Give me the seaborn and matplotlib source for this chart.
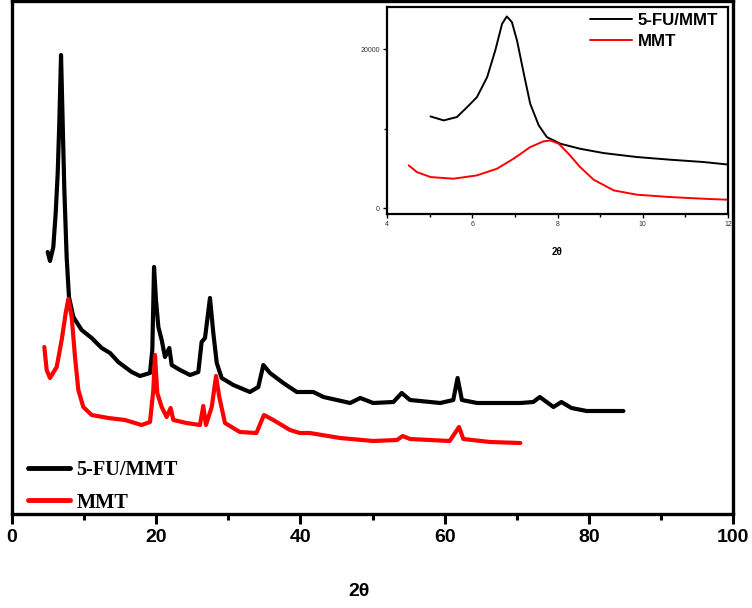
import numpy as np
import pandas as pd
import seaborn as sns
import matplotlib
matplotlib.use("Agg")
import matplotlib.pyplot as plt
from matplotlib.lines import Line2D
from matplotlib.ticker import MultipleLocator, FixedLocator

# ---------------- data ----------------
fu_2theta = [4.95, 5.27, 5.73, 6.06, 6.34, 6.56, 6.80, 7.03, 7.26, 7.58, 7.9, 8.51, 9.66, 11.05,
             12.44, 13.6, 14.74, 16.6, 17.75, 19.14, 19.46, 19.7, 19.97, 20.3, 20.76, 21.22,
             21.82, 22.15, 23.3, 24.7, 25.84, 26.3, 26.77, 27.46, 27.92, 28.4, 29.08, 30.7,
             33.0, 34.16, 34.86, 35.78, 37.63, 39.5, 41.8, 43.2, 46.9, 48.3, 50.1, 52.9, 54.05,
             55.2, 59.4, 61.2, 61.8, 62.4, 64.5, 68.1, 70.5, 72.3, 73.2, 75.1, 76.2, 77.6,
             79.7, 84.8]
fu_int = [262, 253, 267, 301, 341, 391, 459, 391, 324, 257, 217, 197, 184, 176,
          166, 161, 152, 142, 138, 141, 164, 247, 214, 187, 174, 157,
          166, 149, 144, 139, 142, 172, 176, 216, 181, 151, 136, 129,
          122, 127, 149, 141, 131, 122, 122, 117, 111, 116, 111, 112, 121,
          114, 111, 114, 136, 114, 111, 111, 111, 112, 117, 107, 112, 106,
          103, 103]

mmt_2theta = [4.48, 4.81, 5.27, 6.2, 6.89, 7.45, 7.81, 8.28, 8.74, 9.2, 9.89, 11.05, 13.36,
              15.67, 17.98, 19.14, 19.6, 19.83, 20.15, 20.76, 21.45, 22.0, 22.38, 24.2, 26.07,
              26.53, 26.9, 27.7, 28.3, 28.75, 29.54, 31.6, 33.9, 34.95, 36.24, 38.56, 39.9,
              41.3, 45.5, 50.1, 53.4, 54.2, 55.2, 60.7, 62.0, 62.6, 66.3, 70.5]
mmt_int = [167, 144, 136, 147, 174, 201, 215, 197, 157, 124, 107, 99, 96,
           94, 89, 92, 124, 159, 121, 107, 97, 106, 94, 91, 89,
           108, 89, 107, 138, 117, 91, 82, 81, 99, 94, 84, 81,
           81, 76, 73, 74, 78, 75, 73, 87, 75, 72, 71]

# inset (zoom 4-12 deg)
ins_fu_2theta = [5.02, 5.33, 5.64, 5.88, 6.11, 6.35, 6.54, 6.70, 6.81, 6.93, 7.05, 7.21, 7.36,
                 7.56, 7.75, 8.07, 8.53, 9.08, 9.86, 10.65, 11.43, 11.97]
ins_fu_int = [11530, 11030, 11450, 12700, 13960, 16480, 19830, 23190, 24110, 23400, 21090,
              16900, 13120, 10400, 8930, 8090, 7460, 6920, 6420, 6080, 5790, 5490]
ins_mmt_2theta = [4.51, 4.70, 5.02, 5.56, 6.11, 6.58, 6.97, 7.36, 7.67, 7.83, 8.03, 8.26, 8.53,
                  8.85, 9.32, 9.86, 10.65, 11.43, 11.97]
ins_mmt_int = [5370, 4530, 3900, 3690, 4110, 4950, 6210, 7670, 8390, 8510, 8090, 6830, 5160,
               3560, 2220, 1680, 1380, 1170, 1050]

labels = ["5-FU/MMT", "MMT"]
colors = ["black", "red"]
main_xticks = [0, 20, 40, 60, 80, 100]
inset_xticks = [4, 6, 8, 10, 12]
inset_yticks = [0, 20000]

# ---------------- figure ----------------
sns.set_theme(style="white")
plt.rcParams["font.family"] = ["Liberation Sans", "DejaVu Sans"]
plt.rcParams["text.color"] = "black"
plt.rcParams["axes.labelcolor"] = "black"
plt.rcParams["xtick.color"] = "black"
plt.rcParams["ytick.color"] = "black"

fig = plt.figure(figsize=(7.52, 6.08), dpi=100)
ax = fig.add_axes([12 / 752, (608 - 514) / 608, 721 / 752, 513 / 608])

df_fu = pd.DataFrame({"x": fu_2theta, "y": fu_int})
df_mmt = pd.DataFrame({"x": mmt_2theta, "y": mmt_int})
sns.lineplot(data=df_fu, x="x", y="y", color=colors[0], lw=3.0, ax=ax)
sns.lineplot(data=df_mmt, x="x", y="y", color=colors[1], lw=3.0, ax=ax)

ax.set_xlim(0, 100)
ax.set_ylim(0, 513)
ax.set_yticks([])
ax.set_xticks(main_xticks)
ax.xaxis.set_minor_locator(MultipleLocator(10))
ax.tick_params(axis="x", which="major", direction="out", length=7, width=2.2,
               labelsize=14, pad=4, bottom=True, labelcolor="black")
ax.tick_params(axis="x", which="minor", direction="out", length=4, width=2.2, bottom=True)
for lab in ax.get_xticklabels():
    lab.set_fontweight("bold")
for s in ax.spines.values():
    s.set_linewidth(2.4)
    s.set_color("black")
ax.set_xlabel("2θ", fontsize=14, fontweight="bold", color="black")
ax.xaxis.set_label_coords(0.482, -0.135)
ax.set_ylabel("")

handles = [Line2D([], [], color=c, lw=3.5) for c in colors]
ax.legend(handles, labels, loc="lower left", bbox_to_anchor=(0.0, -0.029), frameon=False,
          prop={"family": "Liberation Serif", "weight": "bold", "size": 14.7},
          handlelength=2.05, handletextpad=0.3, labelspacing=0.6, borderaxespad=0.4)

# ---------------- inset ----------------
ins = fig.add_axes([387 / 752, (608 - 214) / 608, (728 - 387) / 752, (214 - 7) / 608])
df_ifu = pd.DataFrame({"x": ins_fu_2theta, "y": ins_fu_int})
df_immt = pd.DataFrame({"x": ins_mmt_2theta, "y": ins_mmt_int})
sns.lineplot(data=df_ifu, x="x", y="y", color=colors[0], lw=1.4, ax=ins)
sns.lineplot(data=df_immt, x="x", y="y", color=colors[1], lw=1.4, ax=ins)
ins.set_xlim(4, 12)
ins.set_ylim(-750, 25300)
ins.set_xticks(inset_xticks)
ins.xaxis.set_minor_locator(MultipleLocator(1))
ins.set_yticks(inset_yticks)
ins.yaxis.set_minor_locator(FixedLocator([10000]))
ins.tick_params(axis="both", which="major", direction="out", length=3, width=1,
                labelsize=5, colors="black", labelcolor="#333333", pad=2,
                bottom=True, left=True)
ins.tick_params(axis="both", which="minor", direction="out", length=2, width=1,
                bottom=True, left=True)
for s in ins.spines.values():
    s.set_linewidth(1.6)
    s.set_color("black")
ins.set_xlabel("2θ", fontsize=7, fontweight="bold", labelpad=14, color="black")
ins.set_ylabel("")
ins_handles = [Line2D([], [], color=c, lw=1.4) for c in colors]
ins.legend(ins_handles, labels, loc="upper right", bbox_to_anchor=(0.99, 1.005),
           frameon=False, prop={"weight": "bold", "size": 12.2},
           handlelength=2.5, handletextpad=0.3, labelspacing=0.36,
           borderaxespad=0.1, borderpad=0.3)

fig.savefig("out.png", dpi=100)
